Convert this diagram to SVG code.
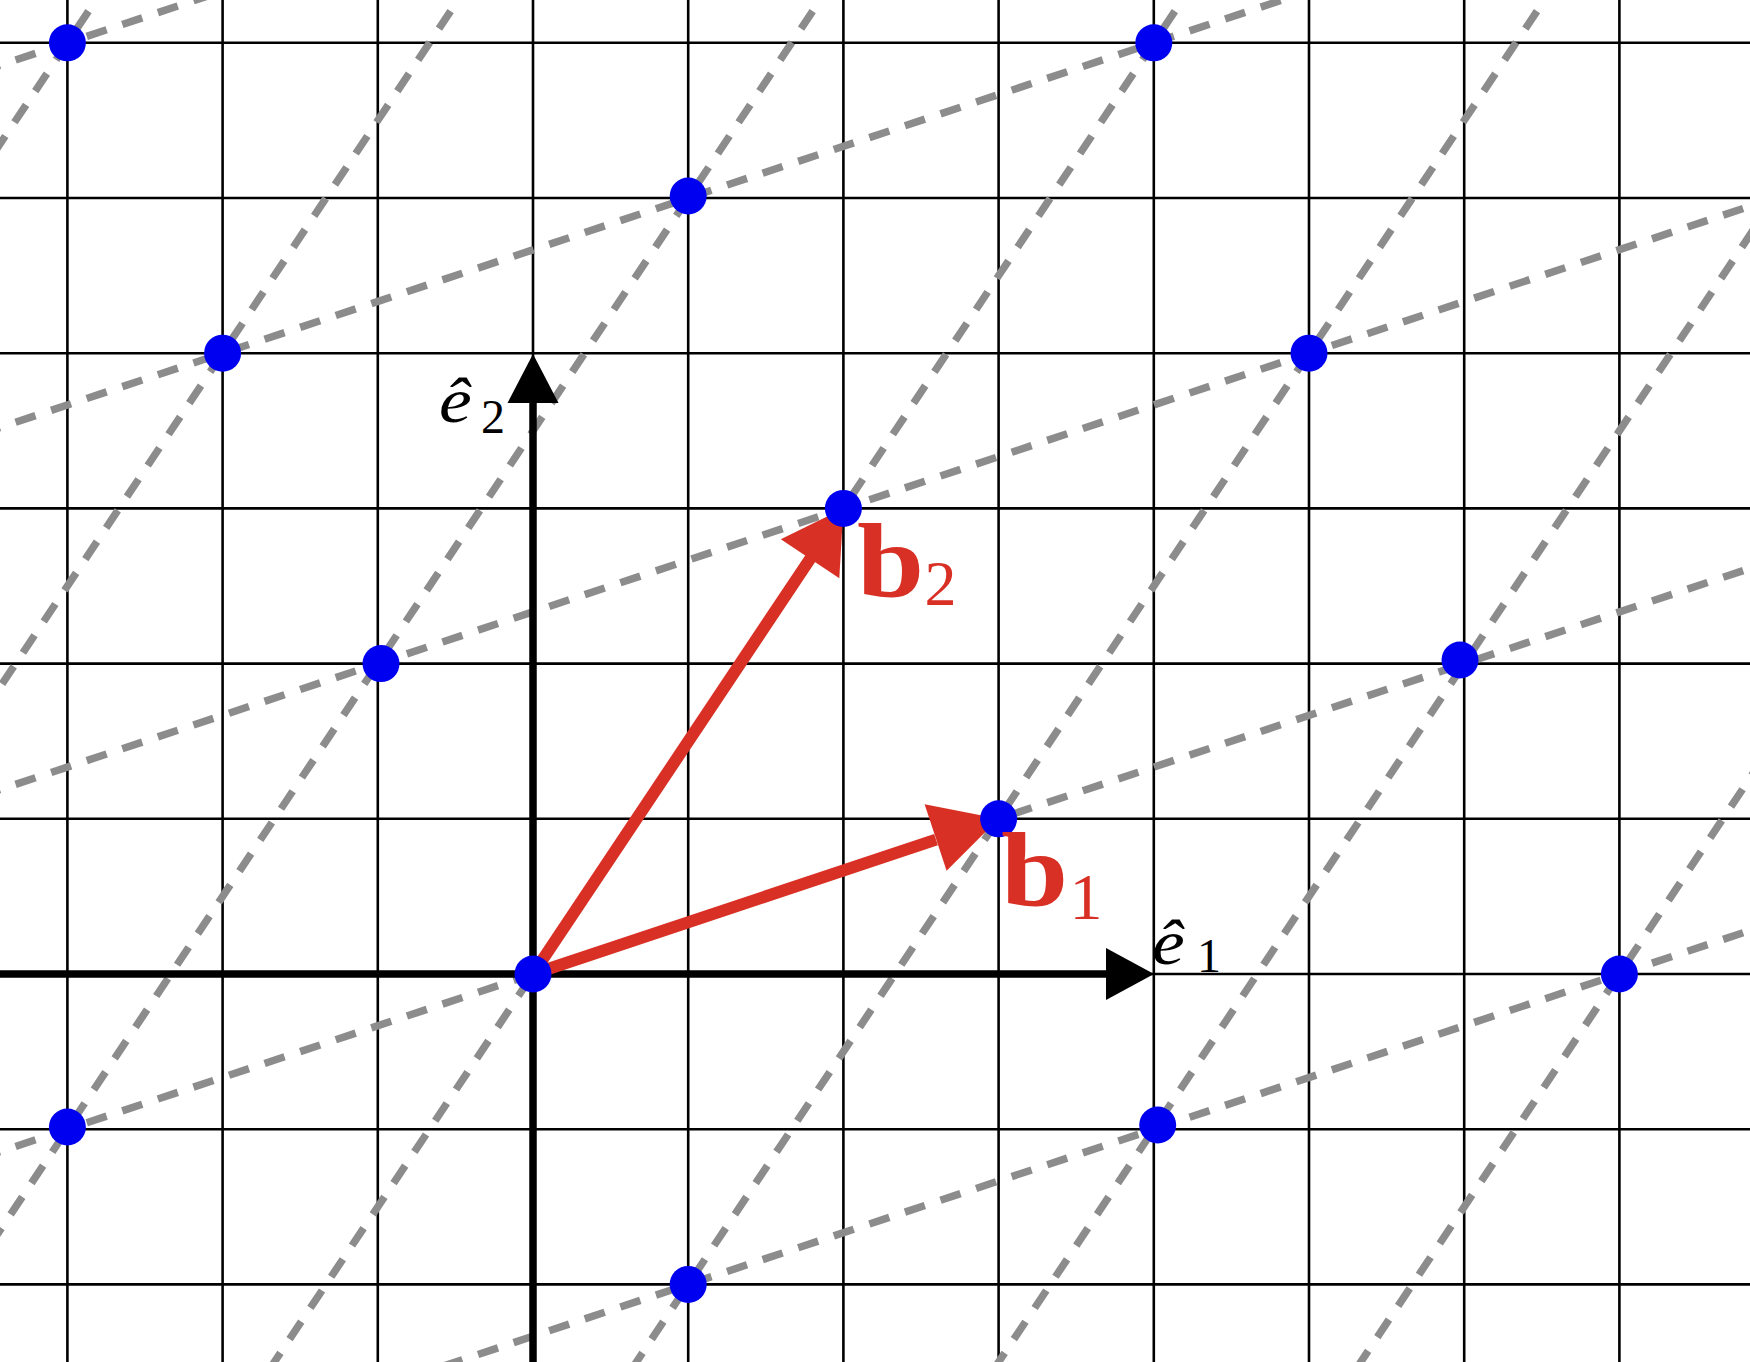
<svg xmlns="http://www.w3.org/2000/svg" width="1750" height="1362" viewBox="0 0 1750 1362">
<style>
.grid line{stroke:#000;stroke-width:2.6}
.lat line{stroke:#8c8c8c;stroke-width:7.5;stroke-dasharray:21 16.5;fill:none}
.axis{stroke:#000;stroke-width:7.5}
.head{fill:#000}
.vec{stroke:#d93025;stroke-width:12}
.vhead{fill:#d93025}
.dot{fill:#0000f0}
.lbl{font-family:"Liberation Serif","Times New Roman",serif}
.bv{font-weight:bold;fill:#d93025}
.bs{font-weight:normal;fill:#d93025}
.ev{font-style:italic;fill:#000}
.es{fill:#000}
</style>
<rect width="1750" height="1362" fill="#fff"/>
<g id="grid" class="grid">
<line x1="67.4" y1="0" x2="67.4" y2="1362"/>
<line x1="222.6" y1="0" x2="222.6" y2="1362"/>
<line x1="377.8" y1="0" x2="377.8" y2="1362"/>
<line x1="533" y1="0" x2="533" y2="1362"/>
<line x1="688.2" y1="0" x2="688.2" y2="1362"/>
<line x1="843.4" y1="0" x2="843.4" y2="1362"/>
<line x1="998.6" y1="0" x2="998.6" y2="1362"/>
<line x1="1153.8" y1="0" x2="1153.8" y2="1362"/>
<line x1="1309" y1="0" x2="1309" y2="1362"/>
<line x1="1464.2" y1="0" x2="1464.2" y2="1362"/>
<line x1="1619.4" y1="0" x2="1619.4" y2="1362"/>
<line x1="0" y1="42.8" x2="1750" y2="42.8"/>
<line x1="0" y1="198" x2="1750" y2="198"/>
<line x1="0" y1="353.2" x2="1750" y2="353.2"/>
<line x1="0" y1="508.4" x2="1750" y2="508.4"/>
<line x1="0" y1="663.6" x2="1750" y2="663.6"/>
<line x1="0" y1="818.8" x2="1750" y2="818.8"/>
<line x1="0" y1="974" x2="1750" y2="974"/>
<line x1="0" y1="1129.2" x2="1750" y2="1129.2"/>
<line x1="0" y1="1284.4" x2="1750" y2="1284.4"/>
</g>
<g id="connectors">
<g id="lattice-lines" class="lat">
<line x1="-20" y1="1520.5" x2="1770" y2="923.8"/>
<line x1="-20" y1="1158.3" x2="1770" y2="561.7"/>
<line x1="-20" y1="796.2" x2="1770" y2="199.5"/>
<line x1="-20" y1="434.1" x2="1770" y2="-162.6"/>
<line x1="-20" y1="71.9" x2="300" y2="-34.7"/>
<line x1="109.3" y1="-20" x2="-825.4" y2="1382"/>
<line x1="471.4" y1="-20" x2="-463.3" y2="1382"/>
<line x1="833.5" y1="-20" x2="-101.1" y2="1382"/>
<line x1="1195.7" y1="-20" x2="261" y2="1382"/>
<line x1="1557.8" y1="-20" x2="623.1" y2="1382"/>
<line x1="1919.9" y1="-20" x2="985.3" y2="1382"/>
<line x1="1929.8" y1="508.4" x2="1347.4" y2="1382"/>
</g>
<g id="axis-e1">
<line class="axis" x1="0" y1="974" x2="1110" y2="974"/>
<polygon class="head" points="1154,974 1106,948 1106,1000"/>
</g>
<g id="axis-e2">
<line class="axis" x1="533" y1="1362" x2="533" y2="400"/>
<polygon class="head" points="533,354 507.5,403 558.5,403"/>
</g>
<g id="vec-b1">
<line class="vec" x1="533" y1="974" x2="936" y2="839.6"/>
<polygon class="vhead" points="998.6,818.8 924.6,804.3 946.6,870.7"/>
</g>
<g id="vec-b2">
<line class="vec" x1="533" y1="974" x2="812" y2="556"/>
<polygon class="vhead" points="843.4,508.4 780.8,539.3 839.3,578.3"/>
</g>
</g>
<g id="dots">
<circle id="p-3_6" class="dot" cx="67.4" cy="42.8" r="18.5"/>
<circle id="p1_5" class="dot" cx="688.2" cy="196" r="18.5"/>
<circle id="p4_6" class="dot" cx="1153.8" cy="42.8" r="18.5"/>
<circle id="p-2_4" class="dot" cx="222.6" cy="353.2" r="18.5"/>
<circle id="p5_4" class="dot" cx="1309" cy="353.2" r="18.5"/>
<circle id="p2_3" class="dot" cx="843.4" cy="508.4" r="18.5"/>
<circle id="p-1_2" class="dot" cx="381" cy="663.6" r="18.5"/>
<circle id="p6_2" class="dot" cx="1460" cy="660" r="18.5"/>
<circle id="p3_1" class="dot" cx="998.6" cy="818.8" r="18.5"/>
<circle id="p0_0" class="dot" cx="533" cy="974" r="18.5"/>
<circle id="p7_0" class="dot" cx="1619.4" cy="974" r="18.5"/>
<circle id="p-3_-1" class="dot" cx="67.4" cy="1127" r="18.5"/>
<circle id="p4_-1" class="dot" cx="1157.7" cy="1125" r="18.5"/>
<circle id="p1_-2" class="dot" cx="688.2" cy="1284.4" r="18.5"/>
</g>
<g id="labels" class="lbl">
<g id="label-b1"><text class="bv" transform="translate(1001,906) scale(1.15,1)" font-size="105">b</text><text class="bs" x="1086" y="919" font-size="66" text-anchor="middle">1</text></g>
<g id="label-b2"><text class="bv" transform="translate(857,597) scale(1.15,1)" font-size="105">b</text><text class="bs" x="940.5" y="605" font-size="64" text-anchor="middle">2</text></g>
<g id="label-e1"><text class="ev" transform="translate(1152,964) scale(1.15,1)" font-size="64">ê</text><text class="es" x="1209" y="972" font-size="48" text-anchor="middle">1</text></g>
<g id="label-e2"><text class="ev" transform="translate(439,422) scale(1.15,1)" font-size="64">ê</text><text class="es" x="493" y="433" font-size="48" text-anchor="middle">2</text></g>
</g>
</svg>
